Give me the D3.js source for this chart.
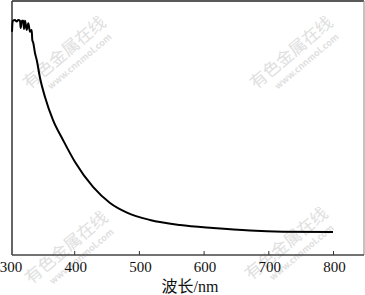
<!DOCTYPE html>
<html>
<head>
    <meta charset="utf-8">
    <title>Absorbance spectrum</title>
    <script src="https://d3js.org/d3.v7.min.js"></script>
    <style>
        body { margin: 0; background: #fff; }
        svg { display: block; }
        .tick-label { font-family: "Liberation Serif", "Times New Roman", serif; font-size: 15px; fill: #111; }
        .axis-title { font-family: "Liberation Serif", "Noto Sans CJK SC", serif; font-size: 16px; fill: #111; }
        .wm { font-family: "Noto Sans CJK SC", sans-serif; fill: #e0e0e0; }
    </style>
</head>
<body>
<svg width="365" height="295" id="chart"></svg>
<script>
    // wavelength (nm)
    const wavelength = [303.1, 304.2, 307.7, 310.4, 312.8, 315.5, 316.5, 318.5, 320.6, 321.6,
        323.2, 325.8, 328.3, 330.9, 333.5, 334.5, 336.0, 338.6, 341.3, 346.4, 354.1, 366.5,
        381.9, 400.5, 428.3, 454.6, 480.8, 516.4, 562.8, 613.8, 670.9, 721.9, 799.2];
    // absorbance (arb. units)
    const absorbance = [0.879, 0.922, 0.925, 0.919, 0.925, 0.922, 0.894, 0.922, 0.922, 0.890,
        0.922, 0.886, 0.912, 0.879, 0.886, 0.846, 0.835, 0.795, 0.768, 0.697, 0.622, 0.531,
        0.453, 0.366, 0.268, 0.205, 0.167, 0.138, 0.118, 0.106, 0.096, 0.092, 0.091];
    const xTicks = [300, 400, 500, 600, 700, 800];
    const xTitle = "波长/nm";

    const svg = d3.select("#chart");
    const frame = { left: 12, right: 364, top: 1, bottom: 255 };

    const x = d3.scaleLinear().domain([300, 800]).range([10, 333.5]);
    const y = d3.scaleLinear().domain([0, 1]).range([255, 1]);

    // watermarks
    const marks = [[68, 57], [295, 57], [70, 252], [290, 248]];
    marks.forEach(([cx, cy]) => {
        const g = svg.append("g").attr("transform", `translate(${cx},${cy}) rotate(-40)`);
        g.append("text").attr("class", "wm").attr("text-anchor", "middle")
            .attr("font-size", "17px").attr("y", 0).text("有色金属在线");
        g.append("text").attr("class", "wm").attr("text-anchor", "middle")
            .attr("font-size", "9px").attr("font-weight", "bold").attr("x", 6).attr("y", 14)
            .text("www.cnnmol.com");
    });

    // frame
    svg.append("line").attr("x1", frame.left).attr("x2", frame.right)
        .attr("y1", frame.top).attr("y2", frame.top).attr("stroke", "#222").attr("stroke-width", 1.5);
    svg.append("line").attr("x1", frame.right).attr("x2", frame.right)
        .attr("y1", frame.top).attr("y2", frame.bottom).attr("stroke", "#999").attr("stroke-width", 1.2);
    svg.append("line").attr("x1", frame.left).attr("x2", frame.left)
        .attr("y1", frame.top).attr("y2", frame.bottom).attr("stroke", "#333").attr("stroke-width", 1.5);
    svg.append("line").attr("x1", frame.left).attr("x2", frame.right)
        .attr("y1", frame.bottom).attr("y2", frame.bottom).attr("stroke", "#444").attr("stroke-width", 1.5);

    // x ticks (inward) and labels
    svg.selectAll(".tick").data(xTicks.slice(1)).enter().append("line")
        .attr("class", "tick")
        .attr("x1", d => x(d)).attr("x2", d => x(d))
        .attr("y1", frame.bottom).attr("y2", frame.bottom - 4)
        .attr("stroke", "#333").attr("stroke-width", 1);
    svg.selectAll(".tick-label").data(xTicks).enter().append("text")
        .attr("class", "tick-label")
        .attr("x", d => x(d) + 1).attr("y", 272)
        .attr("text-anchor", "middle")
        .text(d => d);

    svg.append("text").attr("class", "axis-title")
        .attr("x", 190).attr("y", 292).attr("text-anchor", "middle")
        .text(xTitle);

    // spectrum
    const data = wavelength.map((w, i) => ({ w: w, a: absorbance[i] }));
    const line = d3.line().x(d => x(d.w)).y(d => y(d.a)).curve(d3.curveMonotoneX);
    svg.append("path").datum(data)
        .attr("d", line)
        .attr("fill", "none")
        .attr("stroke", "#000")
        .attr("stroke-width", 2);
</script>
</body>
</html>
